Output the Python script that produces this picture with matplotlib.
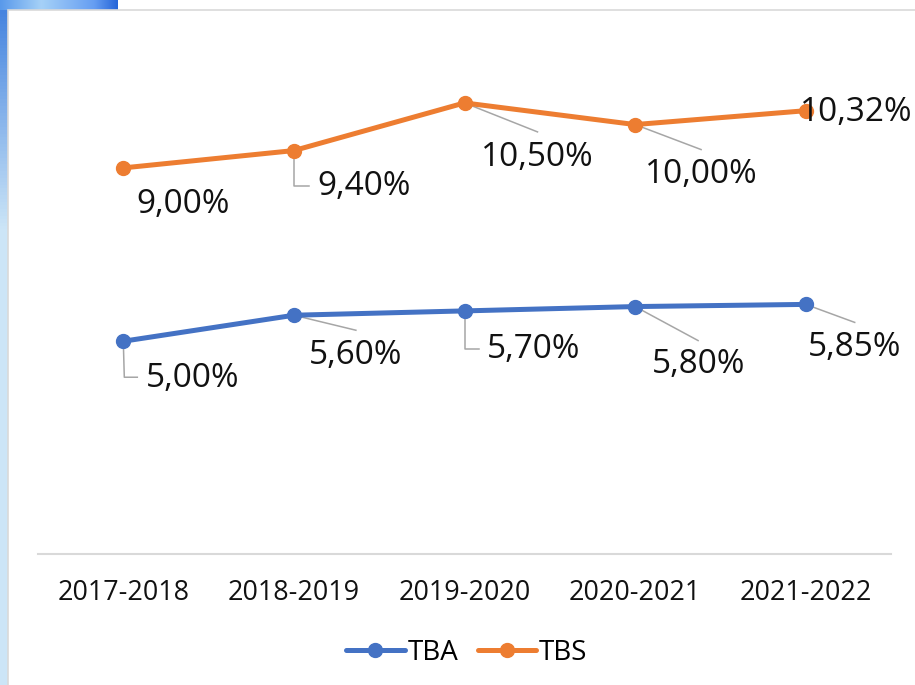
import numpy as np
import matplotlib
matplotlib.use("Agg")
import matplotlib.pyplot as plt
from matplotlib.patches import Rectangle

plt.rcParams['font.family'] = ['Open Sans', 'DejaVu Sans']

# data
years = ['2017-2018', '2018-2019', '2019-2020', '2020-2021', '2021-2022']
tba = [5.00, 5.60, 5.70, 5.80, 5.85]
tbs = [9.00, 9.40, 10.50, 10.00, 10.32]

blue = '#4472C4'
orange = '#ED7D31'
W, H = 915, 685

fig = plt.figure(figsize=(W / 100, H / 100), dpi=100)
fig.patch.set_facecolor('white')

# slide background peeking out on the left / top
bg = fig.add_axes([0, 0, 1, 1], zorder=-5)
yy = np.linspace(0, 1, 200).reshape(-1, 1)
k = np.clip(yy * 3, 0, 1)
left_cols = np.array([0.25, 0.50, 0.87]) * (1 - k) + np.array([0.80, 0.90, 0.97]) * k
bg.imshow(left_cols.reshape(200, 1, 3), extent=(0, 8, H, 0), aspect='auto')
xs = np.linspace(0, 1, 120)
r = np.interp(xs, [0, 0.35, 0.8, 1], [0.35, 0.65, 0.40, 0.15])
g = np.interp(xs, [0, 0.35, 0.8, 1], [0.60, 0.82, 0.62, 0.40])
b = np.interp(xs, [0, 0.35, 0.8, 1], [0.92, 0.97, 0.95, 0.85])
bg.imshow(np.dstack([r, g, b]).reshape(1, 120, 3), extent=(0, 118, 10, 0), aspect='auto')
bg.add_patch(Rectangle((8, 10), W, H, facecolor='white', edgecolor='#d9d9d9', lw=1.2))
bg.set_xlim(0, W)
bg.set_ylim(H, 0)
bg.axis('off')

ax = fig.add_axes([38 / W, (H - 554) / H, 853 / W, 520 / H])
ax.set_facecolor('none')
x = np.arange(len(years))
ax.plot(x, tba, color=blue, lw=3.6, marker='o', ms=10, label='TBA', solid_capstyle='round')
ax.plot(x, tbs, color=orange, lw=3.6, marker='o', ms=10, label='TBS', solid_capstyle='round')
ax.set_xlim(-0.5, len(years) - 0.5)
ax.set_ylim(0.09, 12.09)
ax.set_yticks([])
for s in ['top', 'right', 'left']:
    ax.spines[s].set_visible(False)
ax.spines['bottom'].set_color('#d9d9d9')
ax.spines['bottom'].set_linewidth(1.5)
ax.set_xticks(x)
ax.set_xticklabels(years, fontsize=19.4, color='#111111')
ax.tick_params(axis='x', length=0, pad=18)

# label offsets (pixels, y down) and leader line paths
tbs_text = [(60, 37), (70, 36), (73, 55), (66, 50), (51, 2)]
tba_text = [(69, 37), (62, 40), (69, 39), (63, 58), (49, 43)]
tbs_lead = [None, [(0, 0), (0, 35), (15, 35)], [(0, 0), (73, 29)], [(0, 0), (66, 25)], None]
tba_lead = [[(0, 0), (1, 36), (14, 36)], [(0, 0), (62, 15)], [(0, 0), (0, 38), (14, 38)],
            [(0, 0), (63, 34)], [(0, 0), (49, 18)]]

inv = ax.transData.inverted()
for vals, texts, leads in [(tbs, tbs_text, tbs_lead), (tba, tba_text, tba_lead)]:
    for i, v in enumerate(vals):
        px, py = ax.transData.transform((x[i], v))
        if leads[i] is not None:
            pts = np.array([(px + dx, py - dy) for dx, dy in leads[i]])
            d = inv.transform(pts)
            ax.plot(d[:, 0], d[:, 1], color='#a6a6a6', lw=1.1, zorder=1, clip_on=False)
        tx, ty = inv.transform((px + texts[i][0], py - texts[i][1]))
        ax.text(tx, ty, f'{v:.2f}%'.replace('.', ','), fontsize=24, ha='center', va='center',
                color='#111111', zorder=4, clip_on=False)

ax.legend(loc='center', bbox_to_anchor=(0.51, 0.047), bbox_transform=fig.transFigure, ncol=2,
          frameon=False, fontsize=20, handlelength=2.1, handletextpad=0.1, columnspacing=0.7)

fig.savefig('out.png', dpi=100)
